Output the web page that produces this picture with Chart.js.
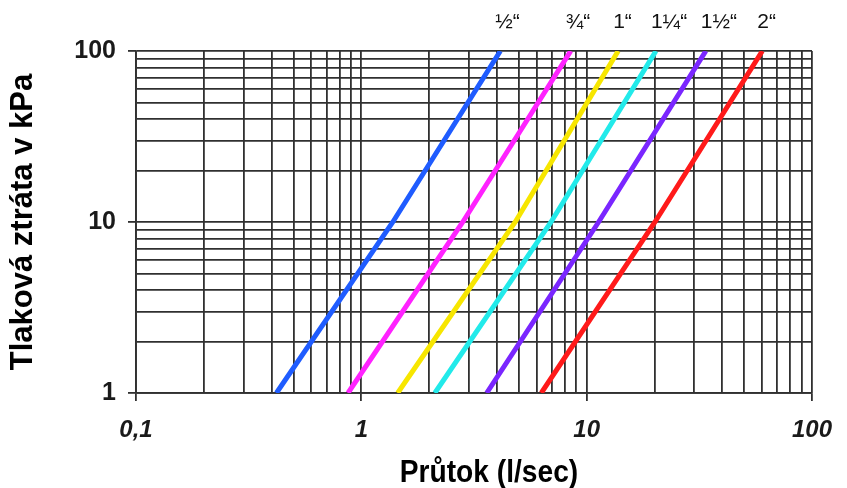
<!DOCTYPE html>
<html>
<head>
<meta charset="utf-8">
<script src="https://cdn.jsdelivr.net/npm/chart.js@4.4.1/dist/chart.umd.min.js"></script>
<style>
  html, body { margin: 0; padding: 0; background: #fff; }
  #wrap { width: 847px; height: 488px; }
</style>
</head>
<body>
<div id="wrap"><canvas id="ztrata"></canvas></div>
<script>
// tlaková ztráta [kPa] v bodech, kde se čte průtok
const pressure = [1, 10, 100];

// průtok [l/sec] pro jednotlivé dimenze potrubí
const flowHalf = [0.42, 1.38, 4.14];
const flowThreeQuarter = [0.873, 2.82, 8.5];
const flowOne = [1.45, 4.82, 13.8];
const flowOneQuarter = [2.12, 6.95, 20.3];
const flowOneHalf = [3.6, 11.3, 33.8];
const flowTwo = [6.29, 20.1, 60.2];

const sizes = ['½“', '¾“', '1“', '1¼“', '1½“', '2“'];
const flows = [flowHalf, flowThreeQuarter, flowOne, flowOneQuarter, flowOneHalf, flowTwo];
const colors = ['#1f5cff', '#ff22ff', '#f7e600', '#22eaea', '#7a26ff', '#ff1a1a'];

// mřížka
const mantissas = [1, 2, 3, 4, 5, 6, 7, 8, 9];
const xDecades = [0.1, 1, 10];
const yDecades = [1, 10];
const xMajor = [0.1, 1, 10, 100];
const xTickLabels = ['0,1', '1', '10', '100'];
const yMajor = [1, 10, 100];
const yTickLabels = ['1', '10', '100'];

const xTitle = 'Průtok (l/sec)';

function gridValues(decades, last) {
    const out = [];
    decades.forEach(d => mantissas.forEach(m => out.push(+(d * m).toPrecision(3))));
    out.push(last);
    return out;
}

const datasets = flows.map((f, i) => ({
    label: sizes[i],
    data: f.map((x, j) => ({ x: x, y: pressure[j] })),
    borderColor: colors[i],
    borderWidth: 5,
    pointRadius: 0,
    tension: 0,
    clip: 0,
}));

// popisky dimenzí nad grafem + název osy x
const extraText = {
    id: 'extraText',
    afterDatasetsDraw(chart) {
        const ctx = chart.ctx;
        const xs = chart.scales.x;
        ctx.save();
        ctx.font = '21px "Liberation Sans", Arial, sans-serif';
        ctx.fillStyle = '#111';
        ctx.textAlign = 'left';
        ctx.textBaseline = 'alphabetic';
        flows.forEach((f, i) => {
            ctx.fillText(sizes[i], xs.getPixelForValue(f[f.length - 1]) - 5, 28);
        });

        ctx.translate(489, 482);
        ctx.scale(0.88, 1);
        ctx.font = 'bold 32px "Liberation Sans", Arial, sans-serif';
        ctx.fillStyle = '#000';
        ctx.textAlign = 'center';
        ctx.fillText(xTitle, 0, 0);
        ctx.restore();
    }
};

const gridColor = '#303030';
const tickColor = c => (c.tick && c.tick.major ? gridColor : 'rgba(0,0,0,0)');

new Chart(document.getElementById('ztrata'), {
    type: 'line',
    data: { datasets: datasets },
    plugins: [extraText],
    options: {
        responsive: true,
        maintainAspectRatio: false,
        animation: false,
        layout: { padding: { top: 51, right: 32, left: 0, bottom: 0 } },
        plugins: {
            legend: { display: false },
            tooltip: { enabled: false },
        },
        scales: {
            x: {
                type: 'logarithmic',
                min: 0.1,
                max: 100,
                afterBuildTicks: s => {
                    s.ticks = gridValues(xDecades, 100).map(v => ({ value: v, major: xMajor.includes(v) }));
                },
                afterFit: s => { s.height = 95; },
                grid: { color: gridColor, lineWidth: 1.8, tickColor: tickColor, tickLength: 8 },
                border: { color: gridColor, width: 1.8 },
                ticks: {
                    autoSkip: false,
                    maxRotation: 0,
                    padding: 15,
                    color: '#1a1a1a',
                    font: { family: '"Liberation Sans", Arial, sans-serif', size: 24, style: 'italic', weight: 'bold' },
                    callback: v => { const k = xMajor.indexOf(v); return k >= 0 ? xTickLabels[k] : ''; },
                },
            },
            y: {
                type: 'logarithmic',
                min: 1,
                max: 100,
                afterBuildTicks: s => {
                    s.ticks = gridValues(yDecades, 100).map(v => ({ value: v, major: yMajor.includes(v) }));
                },
                afterFit: s => { s.width = 136; },
                grid: { color: gridColor, lineWidth: 1.8, tickColor: tickColor, tickLength: 8 },
                border: { color: gridColor, width: 1.8 },
                ticks: {
                    autoSkip: false,
                    padding: 12,
                    color: '#1a1a1a',
                    font: { family: '"Liberation Sans", Arial, sans-serif', size: 25, weight: 'bold' },
                    callback: v => { const k = yMajor.indexOf(v); return k >= 0 ? yTickLabels[k] : ''; },
                },
                title: {
                    display: true,
                    text: 'Tlaková ztráta v kPa',
                    color: '#000',
                    padding: { top: 5, bottom: 0 },
                    font: { family: '"Liberation Sans", Arial, sans-serif', size: 31, weight: 'bold', lineHeight: 1.2 },
                },
            },
        },
    },
});
</script>
</body>
</html>
